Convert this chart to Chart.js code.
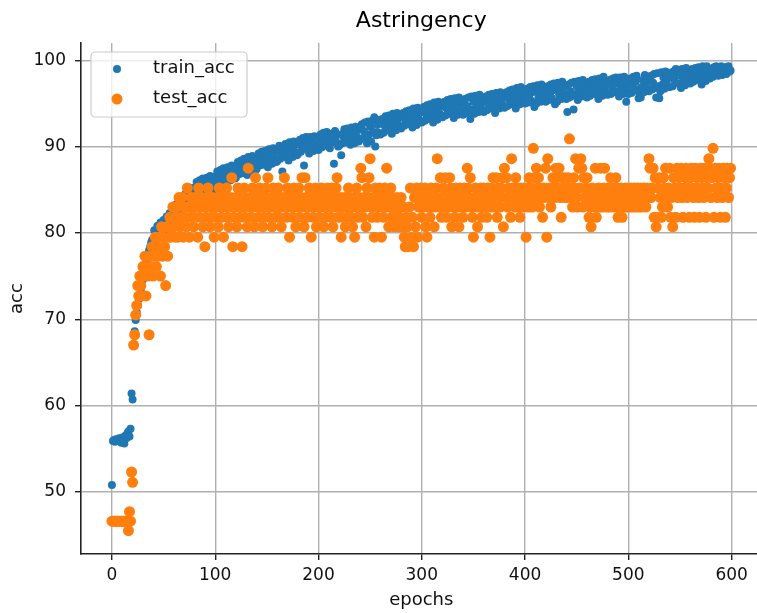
<!DOCTYPE html>
<html>
<head>
<meta charset="utf-8">
<title>Astringency</title>
<script src="https://cdn.jsdelivr.net/npm/chart.js@4.4.0/dist/chart.umd.min.js"></script>
<style>
    html, body { margin: 0; padding: 0; background: #fff; overflow: hidden; }
    #wrap { width: 767px; height: 613px; }
</style>
</head>
<body>
<div id="wrap"><canvas id="accChart" width="767" height="613"></canvas></div>
<script>
// accuracy per epoch (index = epoch)
const trainAcc = [
    50.8,55.9,56.0,55.8,56.1,56.0,55.9,56.2,56.1,55.7,56.3,56.0,55.6,56.5,56.2,56.8,57.0,56.4,57.3,61.4,
    60.7,66.9,68.6,69.9,70.8,71.6,72.3,72.9,73.5,72.7,74.6,75.2,75.9,76.5,77.0,77.5,78.0,78.4,78.9,79.2,
    79.0,80.3,78.6,79.9,80.8,79.3,80.1,81.2,79.6,80.5,81.5,80.0,81.0,81.9,80.4,81.3,82.3,80.9,81.7,82.6,
    81.4,82.7,83.3,81.9,82.8,83.8,82.3,83.2,84.2,82.6,83.6,84.5,83.0,83.9,85.0,83.4,84.3,85.2,83.7,84.8,
    84.0,85.3,85.9,84.3,85.1,86.1,84.6,85.5,86.3,84.8,85.7,84.3,86.4,85.0,85.9,86.6,85.1,86.0,84.8,86.5,
    85.4,86.6,87.1,85.7,86.3,87.3,85.8,86.8,87.5,86.0,86.9,85.6,87.6,86.4,87.2,86.1,87.8,86.6,87.4,86.3,
    86.4,87.7,88.2,86.8,87.4,88.4,86.9,87.9,88.6,87.2,88.0,86.7,88.8,87.5,88.3,87.1,88.9,87.7,88.5,87.3,
    87.4,88.7,89.2,87.8,88.4,89.4,87.9,88.9,89.5,88.1,89.0,87.6,89.7,88.4,89.2,88.0,89.8,88.6,89.3,88.2,
    88.3,89.6,90.1,88.6,89.3,87.1,88.8,89.8,90.3,88.9,89.7,88.4,90.5,89.2,90.0,88.8,90.6,89.4,90.2,89.0,
    89.1,90.3,90.8,89.4,90.0,91.0,87.8,90.4,91.1,89.7,90.5,89.2,91.1,90.0,90.8,89.5,91.2,90.2,90.9,89.7,
    89.6,90.9,91.4,89.9,90.6,91.6,90.1,91.0,91.7,90.3,91.1,89.8,91.5,90.5,91.3,88.0,91.8,90.6,91.4,90.0,
    90.1,91.4,89.0,90.4,91.2,92.0,90.5,91.5,92.1,90.7,91.6,90.2,92.2,91.0,91.8,90.4,92.3,91.1,91.9,90.6,
    90.8,92.1,92.6,91.0,91.8,92.8,91.2,90.4,92.9,91.4,92.3,90.6,93.0,91.7,93.4,90.0,91.3,92.5,91.6,93.1,
    91.4,92.7,93.2,91.6,92.4,93.5,91.9,92.8,93.6,92.1,93.0,91.5,93.8,92.4,93.2,91.9,93.9,92.6,93.4,92.2,
    92.1,93.4,93.9,92.4,93.1,94.1,92.6,93.5,94.2,92.8,93.6,92.2,94.4,93.0,93.8,92.5,94.5,93.2,94.0,92.9,
    92.8,94.0,94.6,93.0,93.8,94.8,93.2,94.1,94.9,93.4,94.3,92.8,95.1,93.7,94.5,93.1,95.2,93.9,94.7,93.5,
    93.4,94.7,95.2,93.6,94.4,95.4,93.8,94.8,95.5,94.0,94.9,93.3,95.6,94.2,95.1,93.7,95.7,94.4,95.2,94.0,
    93.7,95.0,95.5,93.9,94.7,95.7,94.1,93.2,95.8,94.3,95.2,93.8,95.9,94.5,95.3,94.0,96.0,94.7,95.5,94.2,
    94.0,95.3,95.8,94.2,95.0,96.0,94.4,95.4,96.1,94.6,95.5,93.9,96.2,94.9,95.7,94.4,96.3,95.1,95.8,94.7,
    94.5,95.8,96.3,94.7,95.5,96.5,94.9,95.8,96.6,95.1,95.9,94.4,96.8,95.4,96.1,94.9,96.9,95.6,96.3,95.2,
    95.0,96.2,96.7,95.1,95.9,96.9,95.3,96.3,97.0,94.6,96.4,95.0,97.1,95.7,96.5,95.2,97.2,96.0,96.7,95.6,
    95.2,96.5,97.0,95.4,96.1,97.2,95.6,96.5,97.3,94.9,96.7,95.2,97.4,96.0,96.8,95.5,97.5,96.2,96.9,95.8,
    95.5,94.0,97.2,95.7,96.4,97.4,95.9,94.3,97.5,96.1,97.0,95.4,97.6,96.3,97.1,95.8,97.7,96.5,97.2,96.0,
    95.7,97.0,97.5,95.9,96.7,97.7,96.1,97.1,97.8,96.3,97.2,95.5,97.9,96.6,97.4,95.9,98.1,96.8,97.5,96.2,
    96.0,97.2,97.7,96.1,96.9,97.9,96.3,97.3,98.0,96.4,97.3,95.8,98.0,96.7,97.5,96.1,98.1,96.9,95.2,96.4,
    96.1,97.4,97.9,96.2,97.1,98.1,96.5,97.5,98.2,96.6,95.6,96.0,95.7,96.9,97.7,96.3,98.3,97.1,97.8,96.6,
    96.4,97.7,98.2,96.6,97.4,98.4,96.8,95.7,98.5,97.0,95.6,96.4,98.6,97.2,98.0,96.7,98.7,97.4,98.1,96.9,
    96.9,98.1,98.6,97.0,97.8,98.8,99.0,98.2,98.9,97.3,98.3,96.8,99.0,97.7,98.5,97.1,99.1,97.9,98.6,97.4,
    97.3,98.5,99.0,97.5,98.2,99.1,97.7,98.6,99.2,97.9,98.7,97.2,99.3,98.1,98.8,97.6,99.3,98.3,98.9,97.9,
    98.6,99.0,98.1,99.2,98.4,99.3,98.7,98.2,99.1,98.5,99.3,98.3,99.0,98.6,99.2,98.4,98.9,99.3,98.7,98.8
];

const testAcc = [
    46.6,46.6,46.6,46.6,46.6,46.6,46.6,46.6,46.6,46.6,46.6,46.6,46.6,46.6,46.6,46.6,45.5,47.7,46.6,52.3,
    51.1,67.0,68.2,70.5,71.6,73.9,72.7,75.0,73.9,72.7,76.1,75.0,77.3,72.7,76.1,75.0,68.2,77.3,76.1,78.4,
    75.0,77.3,79.5,76.1,78.4,77.3,79.5,75.0,80.7,77.3,79.5,78.4,73.9,80.7,77.3,79.5,81.8,79.5,80.7,83.0,
    80.7,79.5,81.8,83.0,79.5,84.1,80.7,81.8,84.1,79.5,83.0,81.8,80.7,85.2,83.0,79.5,81.8,84.1,83.0,80.7,
    81.8,84.1,83.0,79.5,85.2,81.8,83.0,84.1,80.7,83.0,78.4,81.8,84.1,85.2,83.0,80.7,81.8,84.1,83.0,79.5,
    81.8,83.0,84.1,80.7,85.2,83.0,81.8,84.1,79.5,83.0,84.1,85.2,81.8,80.7,83.0,84.1,86.4,78.4,81.8,83.0,
    84.1,80.7,85.2,83.0,81.8,84.1,78.4,83.0,85.2,81.8,84.1,80.7,87.5,83.0,84.1,81.8,85.2,83.0,80.7,86.4,
    84.1,83.0,81.8,85.2,83.0,84.1,80.7,81.8,83.0,85.2,84.1,86.4,81.8,83.0,84.1,80.7,85.2,83.0,81.8,84.1,
    83.0,85.2,81.8,84.1,80.7,83.0,84.1,86.4,83.0,81.8,85.2,84.1,79.5,83.0,84.1,81.8,85.2,83.0,80.7,84.1,
    83.0,85.2,81.8,84.1,86.4,83.0,80.7,86.4,84.1,81.8,83.0,85.2,84.1,79.5,83.0,81.8,84.1,85.2,80.7,83.0,
    84.1,81.8,83.0,85.2,84.1,80.7,83.0,81.8,84.1,85.2,83.0,84.1,81.8,85.2,80.7,83.0,84.1,85.2,86.4,81.8,
    83.0,84.1,79.5,81.8,83.0,84.1,80.7,83.0,81.8,85.2,84.1,83.0,81.8,80.7,84.1,79.5,83.0,85.2,81.8,84.1,
    83.0,87.5,86.4,81.8,84.1,83.0,80.7,85.2,84.1,86.4,88.6,83.0,81.8,84.1,79.5,85.2,83.0,81.8,84.1,85.2,
    83.0,79.5,84.1,81.8,85.2,83.0,87.5,84.1,80.7,83.0,85.2,81.8,84.1,80.7,83.0,81.8,84.1,80.7,83.0,81.8,
    84.1,80.7,83.0,79.5,78.4,81.8,80.7,78.4,83.0,85.2,79.5,81.8,78.4,84.1,80.7,85.2,79.5,83.0,84.1,85.2,
    81.8,83.0,84.1,85.2,80.7,79.5,83.0,84.1,81.8,85.2,83.0,84.1,80.7,83.0,85.2,88.6,84.1,83.0,86.4,81.8,
    84.1,85.2,83.0,86.4,81.8,84.1,83.0,86.4,85.2,80.7,84.1,83.0,81.8,85.2,84.1,83.0,80.7,85.2,84.1,83.0,
    81.8,85.2,84.1,83.0,87.5,85.2,84.1,86.4,83.0,81.8,79.5,84.1,85.2,83.0,80.7,84.1,83.0,85.2,81.8,84.1,
    85.2,83.0,84.1,81.8,85.2,84.1,79.5,83.0,85.2,86.4,84.1,83.0,86.4,81.8,85.2,84.1,83.0,85.2,86.4,80.7,
    87.5,84.1,86.4,83.0,85.2,84.1,81.8,88.6,85.2,84.1,83.0,86.4,85.2,83.0,84.1,81.8,85.2,84.1,83.0,85.2,
    84.1,79.5,85.2,83.0,86.4,84.1,85.2,83.0,89.8,86.4,84.1,87.5,85.2,86.4,83.0,84.1,85.2,81.8,84.1,85.2,
    87.5,79.5,88.6,84.1,85.2,83.0,84.1,86.4,85.2,84.1,87.5,86.4,85.2,87.5,84.1,81.8,86.4,85.2,84.1,86.4,
    85.2,84.1,86.4,90.9,85.2,84.1,83.0,86.4,85.2,88.6,84.1,83.0,87.5,85.2,88.6,87.5,83.0,86.4,84.1,85.2,
    86.4,84.1,81.8,83.0,80.7,85.2,84.1,83.0,87.5,81.8,84.1,85.2,83.0,87.5,84.1,83.0,85.2,87.5,84.1,83.0,
    85.2,84.1,83.0,86.4,84.1,85.2,83.0,84.1,86.4,85.2,81.8,83.0,84.1,85.2,81.8,83.0,84.1,85.2,83.0,84.1,
    85.2,83.0,84.1,85.2,83.0,84.1,85.2,83.0,84.1,85.2,83.0,84.1,85.2,83.0,84.1,85.2,84.1,83.0,85.2,84.1,
    88.6,87.5,84.1,85.2,87.5,81.8,86.4,80.7,81.8,85.2,86.4,84.1,81.8,83.0,86.4,85.2,87.5,84.1,83.0,85.2,
    87.5,81.8,84.1,80.7,86.4,85.2,81.8,87.5,84.1,86.4,85.2,87.5,84.1,81.8,85.2,86.4,87.5,84.1,85.2,81.8,
    86.4,87.5,85.2,84.1,81.8,87.5,86.4,85.2,84.1,81.8,87.5,86.4,85.2,84.1,87.5,81.8,86.4,85.2,88.6,87.5,
    84.1,86.4,89.8,81.8,87.5,85.2,84.1,86.4,87.5,81.8,85.2,84.1,87.5,86.4,81.8,85.2,87.5,84.1,86.4,87.5
];

const seriesNames = ['train_acc', 'test_acc'];
const xTicks = [0, 100, 200, 300, 400, 500, 600];
const yTicks = [50, 60, 70, 80, 90, 100];
const chartTitle = 'Astringency';

Chart.defaults.font.family = "'DejaVu Sans', sans-serif";
Chart.defaults.color = '#111';

function toPoints(values) {
    return values.map((v, i) => ({ x: i, y: v }));
}

// title + matplotlib-style legend box inside the axes
const frameText = {
    id: 'frameText',
    afterDraw(chart) {
        const { ctx, chartArea } = chart;
        ctx.save();
        ctx.fillStyle = '#000';
        ctx.font = "22px 'DejaVu Sans'";
        ctx.textAlign = 'center';
        ctx.textBaseline = 'middle';
        ctx.fillText(chartTitle, (chartArea.left + chartArea.right) / 2, 21);

        const bx = chartArea.left + 10, by = chartArea.top + 9;
        ctx.beginPath();
        ctx.roundRect(bx, by, 156, 65, 4);
        ctx.fillStyle = 'rgba(255,255,255,0.8)';
        ctx.fill();
        ctx.strokeStyle = '#cccccc';
        ctx.lineWidth = 1.2;
        ctx.stroke();

        chart.data.datasets.forEach((ds, i) => {
            const cy = by + 17 + i * 30;
            ctx.beginPath();
            ctx.arc(bx + 26, cy, ds.pointRadius, 0, Math.PI * 2);
            ctx.fillStyle = ds.backgroundColor;
            ctx.fill();
            ctx.fillStyle = '#111';
            ctx.font = "18px 'DejaVu Sans'";
            ctx.textAlign = 'left';
            ctx.textBaseline = 'middle';
            ctx.fillText(ds.label, bx + 62, cy - 1);
        });
        ctx.restore();
    }
};

const gridStyle = {
    color: '#b0b0b0',
    lineWidth: 1.4,
    tickColor: '#222',
    tickWidth: 1.4,
    tickLength: 6
};

const ctx = document.getElementById('accChart').getContext('2d');
new Chart(ctx, {
    type: 'scatter',
    data: {
        datasets: [
            {
                label: seriesNames[0],
                data: toPoints(trainAcc),
                backgroundColor: '#1f77b4',
                borderColor: '#1f77b4',
                pointRadius: 4,
                pointBorderWidth: 0,
                order: 2
            },
            {
                label: seriesNames[1],
                data: toPoints(testAcc),
                backgroundColor: '#ff7f0e',
                borderColor: '#ff7f0e',
                pointRadius: 5.5,
                pointBorderWidth: 0,
                order: 1
            }
        ]
    },
    options: {
        responsive: false,
        animation: false,
        layout: { padding: { top: 43, left: 0, right: 0, bottom: 0 } },
        plugins: {
            legend: { display: false },
            title: { display: false },
            tooltip: { enabled: false }
        },
        scales: {
            x: {
                type: 'linear',
                min: -29.95,
                max: 628.95,
                z: 1,
                afterFit: scale => { scale.height = 59; },
                afterBuildTicks: scale => { scale.ticks = xTicks.map(v => ({ value: v })); },
                grid: gridStyle,
                border: { display: true, color: '#222', width: 1.6 },
                ticks: { font: { size: 17 }, padding: 5, color: '#111' },
                title: { display: true, text: 'epochs', font: { size: 18 }, color: '#111', padding: { top: 0, bottom: 2 } }
            },
            y: {
                type: 'linear',
                min: 42.8,
                max: 102.0,
                z: 1,
                afterFit: scale => { scale.width = 81; },
                afterBuildTicks: scale => { scale.ticks = yTicks.map(v => ({ value: v })); },
                grid: gridStyle,
                border: { display: true, color: '#222', width: 1.6 },
                ticks: { font: { size: 17 }, padding: 9, color: '#111' },
                title: { display: true, text: 'acc', font: { size: 18 }, color: '#111', padding: { top: 7, bottom: 0 } }
            }
        }
    },
    plugins: [frameText]
});
</script>
</body>
</html>
